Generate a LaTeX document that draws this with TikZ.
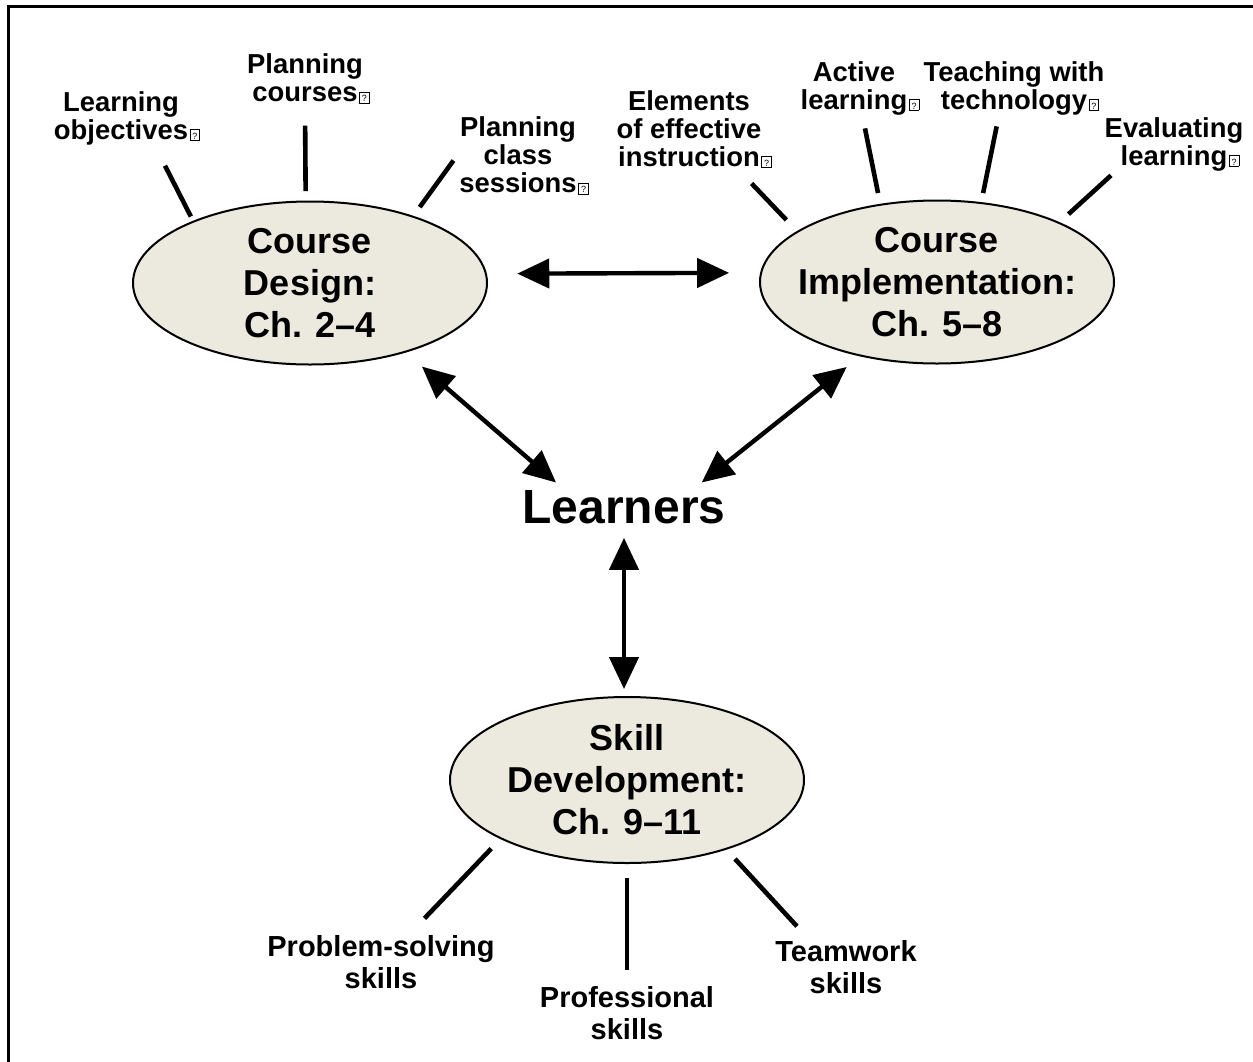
\documentclass[tikz,border=0pt]{standalone}
\usepackage{fontspec}
\setmainfont{Liberation Sans}
\usepackage{tikz}
\usetikzlibrary{arrows.meta,shapes.geometric}

\definecolor{unitfill}{RGB}{236,233,222}
% box for the glyph that the original font lacked
\newcommand{\qbox}{\rlap{\hspace{0.8pt}\setlength{\fboxsep}{0.5pt}\setlength{\fboxrule}{0.45pt}\fbox{\fontsize{4.5}{4.5}\selectfont\mdseries\makebox[3.4pt]{\rule{0pt}{4.2pt}?}}}}

\begin{document}
\begin{tikzpicture}[x=0.5pt, y=-0.5pt,
	unit/.style={ellipse, draw, line width=1pt, fill=unitfill, minimum width=177pt, minimum height=81.5pt, inner sep=0pt},
	unittext/.style={align=center, inner sep=0pt, font=\bfseries\fontsize{18}{21}\selectfont},
	topic/.style={align=center, inner sep=0pt, font=\bfseries\fontsize{13.7}{14}\selectfont},
	skilltopic/.style={topic, font=\bfseries\fontsize{14.5}{16}\selectfont},
	spoke/.style={line width=2.3pt},
	link/.style={{Triangle[length=16pt,width=14.5pt]}-{Triangle[length=16pt,width=14.5pt]}, line width=2.2pt}]
	\useasboundingbox (0,0) rectangle (1253,1061);
	\draw [line width=1.5pt] (8,1080) -- (8,6) -- (1270,6);

	% Nodes {design, impl, skill, learners}
	\node [unit] (design) at (310,283) {};
	\node [unit] (impl) at (937,282) {};
	\node [unit, minimum height=83pt] (skill) at (627,780) {};
	\node [unittext] (designtext) at (design) {Course\\Design:\\Ch. 2–4};
	\node [unittext] (impltext) at (impl) {Course\\Implementation:\\Ch. 5–8};
	\node [unittext] (skilltext) at (skill) {Skill\\Development:\\Ch. 9–11};
	\node [inner sep=0pt, anchor=base, font=\bfseries\fontsize{24}{28}\selectfont] (learn) at (624,523) {Learners};

	% Topics round the units
	\node [topic] (lobj) at (121,118) {Learning\\objectives\qbox};
	\node [topic] (pcour) at (305,79) {Planning\\courses\qbox};
	\node [topic] (psess) at (518,156) {Planning\\class\\sessions\qbox};
	\node [topic] (elem) at (689,129.5) {Elements\\of effective\\instruction\qbox};
	\node [topic] (activ) at (854,88) {Active\\learning\qbox};
	\node [topic] (teach) at (1014,88) {Teaching with\\technology\qbox};
	\node [topic] (evalu) at (1174,144) {Evaluating\\learning\qbox};
	\node [skilltopic] (probl) at (381,962.6) {Problem-solving\\skills};
	\node [skilltopic] (profe) at (627,1013) {Professional\\skills};
	\node [skilltopic] (teamw) at (846,967.6) {Teamwork\\skills};

	% Paths {design, impl, skill} <-> learners
	\path [link] (design.3) edge[shorten <=15.2pt, shorten >=15.5pt] (impl.177)
				(design.-36) edge[shorten <=10.7pt, shorten >=5.4pt] (learn.164)
				(impl.224) edge[shorten <=8.5pt, shorten >=5.7pt] (learn.14)
				(learn.south) edge[shorten <=7pt, shorten >=3.5pt] (learn.south |- skill.north);

	% Spokes
	\path [spoke] (design.152) edge[shorten <=2.4pt, shorten >=11.5pt] (lobj.-39)
				(design.93) edge[shorten <=4.7pt, shorten >=10.7pt] (pcour.south)
				(design.33) edge[shorten <=5.4pt, shorten >=4.7pt] (psess.177)
				(impl.160) edge[shorten <=7.7pt, shorten >=10.2pt] (elem.-39)
				(impl.126) edge[shorten <=5.5pt, shorten >=6.7pt] (activ.-73)
				(impl.61) edge[shorten <=4.6pt, shorten >=5.7pt] (teach.-119)
				(impl.26) edge[shorten <=6pt, shorten >=3.1pt] (evalu.-155)
				(skill.205) edge[shorten <=6.6pt, shorten >=11.9pt] (probl.45)
				(skill.south) edge[shorten <=7pt, shorten >=8.1pt] (profe.north)
				(skill.-35) edge[shorten <=6.3pt, shorten >=9.7pt] (teamw.143);
\end{tikzpicture}
\end{document}
